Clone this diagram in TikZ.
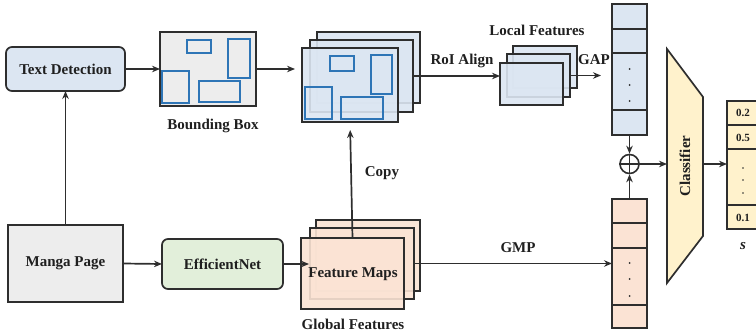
\documentclass[tikz,border=0pt]{standalone}
\usepackage{fontspec}
\setmainfont{Liberation Serif}
\usetikzlibrary{arrows.meta,calc}
\definecolor{lineC}{HTML}{2E2E2E}
\definecolor{blueF}{HTML}{DCE6F2}
\definecolor{grayF}{HTML}{EDEDED}
\definecolor{greenF}{HTML}{E2EFDA}
\definecolor{peachF}{HTML}{FBE3D4}
\definecolor{yellowF}{HTML}{FFF2CC}
\definecolor{boxB}{HTML}{2E75B6}
\begin{document}
\begin{tikzpicture}[x=1pt,y=-1pt,
 lbl/.style={font=\fontsize{15}{18}\selectfont\bfseries, inner sep=0, text=black!88},
 slbl/.style={font=\fontsize{11}{13}\selectfont\bfseries, inner sep=0, text=black!88},
 blk/.style={draw=lineC, line width=1.7pt, inner sep=0, outer sep=0, font=\fontsize{15}{18}\selectfont\bfseries, text=black!88},
 rblk/.style={blk, rounded corners=6pt},
 layer/.style={draw=lineC, line width=1.7pt, inner sep=0, outer sep=0, fill opacity=0.9, text opacity=1, font=\fontsize{15}{18}\selectfont\bfseries, text=black!88},
 bbx/.style={draw=boxB, line width=2pt},
 conn/.style={draw=lineC, line width=1.7pt, -{Stealth[length=8pt,width=6.5pt]}},
 sep/.style={draw=lineC, line width=1.2pt},
 vdot/.style={fill=lineC, circle, inner sep=0, minimum size=2pt},
]
\useasboundingbox (0,0) rectangle (756,334);
\clip (0,0) rectangle (756,334);

% left column
\node[rblk, fill=blueF, minimum width=119pt, minimum height=44pt] (td) at (65.5,69) {Text Detection};
\node[blk, fill=grayF, minimum width=115pt, minimum height=77pt] (mp) at (65.5,263.5) {Manga Page};
\node[rblk, fill=greenF, minimum width=121pt, minimum height=50pt] (en) at (222.5,264) {EfficientNet};

% bounding box image
\node[blk, fill=grayF, minimum width=96pt, minimum height=74pt] (bb) at (208,69) {};
\draw[bbx] (187,40) rectangle (211,53);
\draw[bbx] (228,39) rectangle (250,78);
\draw[bbx] (162,71) rectangle (189,103);
\draw[bbx] (199,81) rectangle (240,102);
\node[lbl] (bbl) at (213,126) {Bounding Box};

% copied feature maps with boxes
\node[layer, fill=blueF, minimum width=103pt, minimum height=71pt] (cpA) at (368.5,67.5) {};
\node[layer, fill=blueF, minimum width=103pt, minimum height=72pt] (cpB) at (361.5,76) {};
\node[layer, fill=blueF, minimum width=96pt, minimum height=74pt] (cpC) at (350,85) {};
\draw[bbx] (330,56) rectangle (354,71);
\draw[bbx] (371,55) rectangle (392,94);
\draw[bbx] (305,87) rectangle (332,119);
\draw[bbx] (341,97) rectangle (383,119);

% global feature maps
\node[layer, fill=peachF, minimum width=104pt, minimum height=71pt] (fmA) at (368,255.5) {};
\node[layer, fill=peachF, minimum width=104pt, minimum height=71pt] (fmB) at (362,263.5) {};
\node[layer, fill=peachF, minimum width=103pt, minimum height=71pt] (fmC) at (352.5,273.5) {};
\node[lbl] (fml) at (353,274) {Feature Maps};
\node[lbl] (gfl) at (353,324) {Global Features};

% local features
\node[lbl] (lfl) at (537,30) {Local Features};
\node[layer, fill=blueF, minimum width=64pt, minimum height=42pt] (lfA) at (545,67) {};
\node[layer, fill=blueF, minimum width=63pt, minimum height=43pt] (lfB) at (538.5,75.5) {};
\node[layer, fill=blueF, minimum width=63pt, minimum height=42pt] (lfC) at (531.5,84) {};

% blue vector
\node[blk, fill=blueF, minimum width=35pt, minimum height=131pt] (bv) at (629.5,69.5) {};
\draw[sep] (612,29) -- (647,29);
\draw[sep] (612,53) -- (647,53);
\draw[sep] (612,110) -- (647,110);
\node[vdot] at (629.5,69) {};
\node[vdot] at (629.5,85) {};
\node[vdot] at (629.5,101) {};

% orange vector
\node[blk, fill=peachF, minimum width=35pt, minimum height=129pt] (ov) at (629.5,263.5) {};
\draw[sep] (612,223) -- (647,223);
\draw[sep] (612,248) -- (647,248);
\draw[sep] (612,305) -- (647,305);
\node[vdot] at (629.5,263) {};
\node[vdot] at (629.5,279) {};
\node[vdot] at (629.5,296) {};

% plus
\node[circle, draw=lineC, line width=1.6pt, minimum size=19pt, inner sep=0] (plus) at (629.5,164) {};
\draw[lineC, line width=1.5pt] (plus.north) -- (plus.south) (plus.west) -- (plus.east);

% classifier
\draw[fill=yellowF, draw=lineC, line width=1.7pt] (667,49) -- (703,97) -- (703,236) -- (667,283) -- cycle;
\node[lbl, rotate=90] (cls) at (685,166) {Classifier};
\coordinate (clsL) at (667,164);
\coordinate (clsR) at (703,164);

% output vector
\node[blk, fill=yellowF, minimum width=32pt, minimum height=128pt] (out) at (743,165) {};
\draw[sep] (727,125) -- (759,125);
\draw[sep] (727,149) -- (759,149);
\draw[sep] (727,205) -- (759,205);
\node[slbl] at (743,113) {0.2};
\node[slbl] at (743,137.5) {0.5};
\node[slbl] at (743,217.5) {0.1};
\node[vdot, minimum size=1.7pt] at (743,168) {};
\node[vdot, minimum size=1.7pt] at (743,180) {};
\node[vdot, minimum size=1.7pt] at (743,193) {};
\node[lbl] (sl) at (743,246) {\textit{s}};

% connectors
\draw[conn] (mp.north) -- (td.south);
\draw[conn] (td.east) -- (bb.west);
\draw[conn, shorten >=7pt] (bb.east) -- (bb.east -| cpC.west);
\draw[conn] (mp.east) -- (en.west);
\draw[conn, shorten >=-8pt] (en.east) -- (en.east -| fmC.west);
\draw[conn, shorten >=8pt] (fmC.north) -- (cpC.south);
\node[lbl] (cpl) at (382,173) {Copy};
\draw[conn] (cpB.east) -- (cpB.east -| lfC.west);
\node[lbl] (roi) at (462,61) {RoI Align};
\draw[conn, shorten >=11pt] (lfB.east) -- (lfB.east -| bv.west);
\node[lbl] (gap) at (594,60) {GAP};
\draw[conn] (fmB.east) -- (fmB.east -| ov.west);
\node[lbl] (gmp) at (518,248) {GMP};
\draw[conn] (bv.south) -- (plus.north);
\draw[conn] (ov.north) -- (plus.south);
\draw[conn] (plus.east) -- (clsL);
\draw[conn] (clsR) -- (clsR -| out.west);
\end{tikzpicture}
\end{document}
